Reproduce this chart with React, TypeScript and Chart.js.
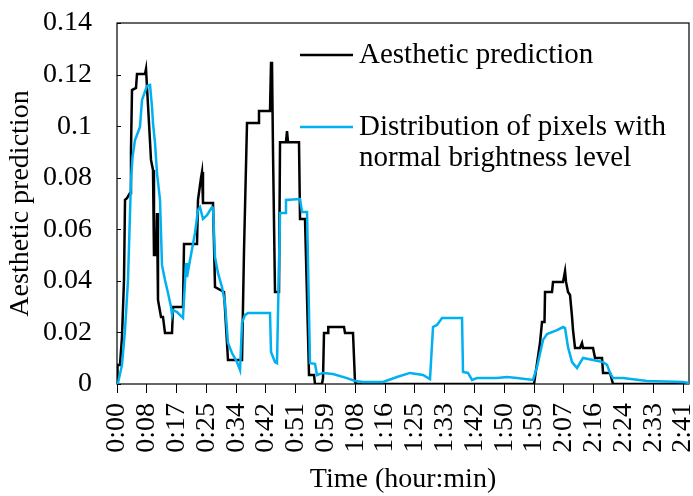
import React, { useEffect, useRef } from "react";
import { Chart, registerables } from "chart.js";

Chart.register(...registerables);

// ---- Data (time in minutes) ----
const aestheticTime = [
  0, 0.14, 0.85, 1.42, 1.99, 2.28, 2.84, 3.7, 3.98, 4.27, 5.4, 5.69, 7.96, 8.25, 8.53, 9.1, 9.67, 10.24, 10.52, 11.09,
  11.38, 11.66, 12.52, 13.08, 13.65, 15.65, 15.93, 18.77, 19.06, 22.76, 23.04, 23.89, 24.18, 24.46, 27.31, 27.88,
  30.44, 31.57, 35.56, 36.13, 36.98, 40.11, 40.39, 43.52, 43.81, 44.09, 44.38, 44.94, 46.08, 46.37, 48.07, 48.36,
  48.64, 51.77, 52.06, 53.48, 54.62, 56.04, 56.32, 58.31, 58.6, 58.88, 60.02, 60.1, 64.57, 64.86, 67.13, 67.7, 67.98,
  118.62, 119.19, 120.32, 120.89, 121.6, 121.75, 123.74, 124.02, 126.87, 127.44, 127.72, 128.29, 128.86, 129.43,
  129.71, 130.28, 131.7, 132.27, 132.55, 135.4, 135.97, 137.96, 138.25, 140.24, 141.09, 162.7,
];
const aestheticValue = [
  0, 0.0074, 0.0074, 0.0182, 0.0403, 0.0714, 0.0721, 0.0741, 0.0907, 0.114, 0.1148, 0.1202, 0.1202, 0.1222, 0.1222,
  0.1012, 0.0869, 0.083, 0.05, 0.05, 0.0663, 0.0326, 0.026, 0.026, 0.0198, 0.0198, 0.0299, 0.0299, 0.0543, 0.0543,
  0.0714, 0.0799, 0.0822, 0.0702, 0.0702, 0.0376, 0.0357, 0.0093, 0.0093, 0.052, 0.1012, 0.1012, 0.1059, 0.1059,
  0.1245, 0.1245, 0.0896, 0.0357, 0.0357, 0.0938, 0.0938, 0.0981, 0.0938, 0.0938, 0.064, 0.064, 0.0035, 0.0035, 0,
  0, 0.0023, 0.0198, 0.0198, 0.0221, 0.0221, 0.0198, 0.0198, 0.0008, 0,
  0, 0.0054, 0.0159, 0.024, 0.024, 0.0357, 0.0357, 0.0396, 0.0396, 0.0438, 0.0396, 0.0357, 0.0345, 0.026, 0.0209,
  0.014, 0.014, 0.0159, 0.014, 0.014, 0.0101, 0.0101, 0.0043, 0.0043, 0, 0,
];

const brightnessTime = [
  0, 0.28, 1.42, 2.28, 3.13, 3.98, 4.41, 5.12, 6.54, 7.11, 8.53, 9.39, 9.96, 10.24, 10.81, 11.38, 12.23, 12.8, 13.65,
  14.51, 15.36, 15.65, 15.93, 17.07, 18.77, 19.63, 19.91, 20.77, 22.19, 23.04, 23.61, 24.46, 25.6, 27.02, 27.31,
  27.88, 28.73, 29.87, 30.72, 31.57, 32.71, 34.13, 34.99, 35.56, 36.41, 37.26, 43.52, 43.81, 44.94, 45.51, 46.37,
  47.79, 48.07, 52.06, 52.62, 54.05, 54.9, 56.32, 56.89, 58.6, 61.44, 65.42, 67.7, 69.98, 75.67, 79.65, 83.34, 87.04,
  89.03, 89.89, 91.02, 92.45, 98.14, 98.42, 99.84, 100.98, 102.4, 108.09, 110.94, 113.78, 118.33, 119.47, 121.18,
  122.32, 125.16, 126.87, 127.44, 128.29, 129.43, 130.85, 132.55, 135.4, 138.25, 139.38, 140.24, 141.09, 143.93,
  150.76, 161.0, 162.7,
];
const brightnessValue = [
  0, 0.0004, 0.0074, 0.0209, 0.0403, 0.0791, 0.088, 0.0946, 0.0997, 0.1101, 0.1156, 0.116, 0.1074, 0.1012, 0.0935,
  0.0818, 0.0714, 0.0461, 0.0403, 0.0353, 0.0299, 0.0268, 0.0287, 0.0279, 0.0256, 0.0469, 0.0415, 0.0481, 0.0586,
  0.0675, 0.0686, 0.064, 0.0655, 0.0686, 0.0683, 0.0493, 0.043, 0.0376, 0.0314, 0.0159, 0.012, 0.0085, 0.0054,
  0.0237, 0.0268, 0.0275, 0.0275, 0.0124, 0.0085, 0.0081, 0.0663, 0.0663, 0.0714, 0.0717, 0.0667, 0.0667, 0.0081,
  0.0078, 0.0035, 0.0043, 0.0039, 0.0023, 0.0012, 0.0008, 0.0008, 0.0027, 0.0043, 0.0035, 0.0019, 0.0221, 0.0229,
  0.0256, 0.0256, 0.0047, 0.0043, 0.0016, 0.0023, 0.0023, 0.0027, 0.0023, 0.0016, 0.0066, 0.0171, 0.0194, 0.0209,
  0.0221, 0.0217, 0.0143, 0.0085, 0.0062, 0.0101, 0.0093, 0.0085, 0.0074, 0.0043, 0.0023, 0.0023, 0.0012, 0.0008,
  0.0004,
];

const xTickMinutes = [
  0, 8.47, 16.95, 25.42, 33.89, 42.37, 50.84, 59.32, 67.79, 76.26, 84.74, 93.21, 101.68, 110.16, 118.63, 127.11,
  135.58, 144.05, 152.53, 161.0,
];
const xTickLabels = [
  "0:00", "0:08", "0:17", "0:25", "0:34", "0:42", "0:51", "0:59", "1:08", "1:16", "1:25", "1:33", "1:42", "1:50",
  "1:59", "2:07", "2:16", "2:24", "2:33", "2:41",
];
const yTickValues = [0, 0.02, 0.04, 0.06, 0.08, 0.1, 0.12, 0.14];
const yTickLabels = ["0", "0.02", "0.04", "0.06", "0.08", "0.1", "0.12", "0.14"];

const seriesNames = ["Aesthetic prediction", "Distribution of pixels with normal brightness level"];
const legendLines = [["Aesthetic prediction"], ["Distribution of pixels with", "normal brightness level"]];
const xTitle = "Time (hour:min)";
const yTitle = "Aesthetic prediction";

const BLACK = "#000000";
const BLUE = "#00B0F0";
const FONT_FAMILY = '"Liberation Serif", "Times New Roman", serif';

const framePlugin = {
  id: "frameAndLegend",
  beforeDatasetsDraw(chart: any) {
    const { ctx, chartArea: a, scales } = chart;
    ctx.save();
    ctx.strokeStyle = "#000";
    ctx.lineWidth = 1.2;
    ctx.strokeRect(a.left, a.top, a.right - a.left, a.bottom - a.top);
    const ys = scales.y;
    ctx.lineWidth = 1;
    yTickValues.forEach((v) => {
      const py = Math.round(ys.getPixelForValue(v)) + 0.5;
      ctx.beginPath();
      ctx.moveTo(a.left, py);
      ctx.lineTo(a.left + 4, py);
      ctx.stroke();
    });
    ctx.restore();
  },
  afterDatasetsDraw(chart: any) {
    const { ctx } = chart;
    ctx.save();
    const colors = [BLACK, BLUE];
    const rowY = [55, 127];
    ctx.font = `29px ${FONT_FAMILY}`;
    ctx.textBaseline = "middle";
    ctx.textAlign = "left";
    legendLines.forEach((lines, i) => {
      ctx.strokeStyle = colors[i];
      ctx.lineWidth = 2.5;
      ctx.beginPath();
      ctx.moveTo(300, rowY[i]);
      ctx.lineTo(353, rowY[i]);
      ctx.stroke();
      ctx.fillStyle = "#000";
      lines.forEach((t, j) => ctx.fillText(t, 359, rowY[i] + j * 31));
    });
    ctx.restore();
  },
};

export default function App() {
  const canvasRef = useRef<HTMLCanvasElement | null>(null);

  useEffect(() => {
    const canvas = canvasRef.current;
    if (!canvas) return;
    const font = { family: FONT_FAMILY, size: 28 };
    const chart = new Chart(canvas, {
      type: "line",
      data: {
        datasets: [
          {
            label: seriesNames[0],
            data: aestheticTime.map((t, i) => ({ x: t, y: aestheticValue[i] })),
            borderColor: BLACK,
            borderWidth: 2.5,
            pointRadius: 0,
            tension: 0,
            fill: false,
            order: 2,
          },
          {
            label: seriesNames[1],
            data: brightnessTime.map((t, i) => ({ x: t, y: brightnessValue[i] })),
            borderColor: BLUE,
            borderWidth: 2.5,
            pointRadius: 0,
            tension: 0,
            fill: false,
            order: 1,
          },
        ],
      },
      options: {
        responsive: false,
        animation: false,
        events: [],
        layout: { padding: { top: 23, right: 4, left: 0, bottom: 0 } },
        plugins: {
          legend: { display: false },
          tooltip: { enabled: false },
        },
        scales: {
          x: {
            type: "linear",
            min: 0,
            max: 162.7,
            afterBuildTicks: (scale: any) => {
              scale.ticks = xTickMinutes.map((v) => ({ value: v }));
            },
            afterFit: (scale: any) => {
              scale.height = 112;
              scale.paddingLeft = 0;
              scale.paddingRight = 0;
            },
            ticks: {
              autoSkip: false,
              minRotation: 90,
              maxRotation: 90,
              padding: 10,
              color: "#000",
              font,
              callback: (_v: any, i: number) => xTickLabels[i],
            },
            grid: {
              display: true,
              drawOnChartArea: false,
              drawTicks: true,
              tickLength: 9,
              color: "#000",
              lineWidth: 1,
            },
            border: { display: false },
            title: {
              display: true,
              text: xTitle,
              color: "#000",
              font,
              padding: { top: 0, bottom: 0 },
            },
          },
          y: {
            type: "linear",
            min: 0,
            max: 0.14,
            afterBuildTicks: (scale: any) => {
              scale.ticks = yTickValues.map((v) => ({ value: v }));
            },
            afterFit: (scale: any) => {
              scale.width = 117;
              scale.paddingTop = 0;
              scale.paddingBottom = 0;
            },
            ticks: {
              padding: 25,
              color: "#000",
              font,
              callback: (_v: any, i: number) => yTickLabels[i],
            },
            grid: { display: true, drawOnChartArea: false, drawTicks: false },
            border: { display: false },
            title: {
              display: true,
              text: yTitle,
              color: "#000",
              font,
              padding: { top: 4, bottom: 0 },
            },
          },
        },
      },
      plugins: [framePlugin],
    });
    return () => chart.destroy();
  }, []);

  return (
    <div style={{ position: "fixed", left: 0, top: 0, width: 693, height: 496, background: "#fff" }}>
      <canvas ref={canvasRef} width={693} height={496} style={{ display: "block" }} />
    </div>
  );
}
